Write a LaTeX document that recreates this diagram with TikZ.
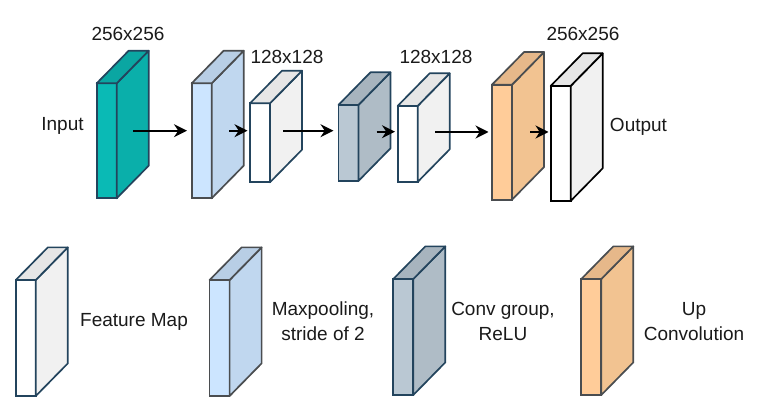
\documentclass[tikz,border=0pt]{standalone}
\usepackage{fontspec}
\setmainfont{Liberation Sans}
\usetikzlibrary{arrows.meta}

\definecolor{linedark}{HTML}{23445D}
\definecolor{linegrey}{HTML}{4A4D50}
\definecolor{tealfront}{HTML}{0ABAB5}
\definecolor{tealside}{HTML}{0AAFAA}
\definecolor{tealtop}{HTML}{0AA6A2}
\definecolor{bluefront}{HTML}{CCE5FF}
\definecolor{blueside}{HTML}{C0D7EF}
\definecolor{bluetop}{HTML}{B8CEE5}
\definecolor{slatefront}{HTML}{BAC8D3}
\definecolor{slateside}{HTML}{AFBCC6}
\definecolor{slatetop}{HTML}{A7B4BE}
\definecolor{whiteside}{HTML}{F1F1F1}
\definecolor{whitetop}{HTML}{E6E6E6}
\definecolor{orangefront}{HTML}{FFCC99}
\definecolor{orangeside}{HTML}{F2C391}
\definecolor{orangetop}{HTML}{E6B88A}
\definecolor{textdark}{HTML}{1A1A1A}

\tikzset{
  face/.style={rectangle, draw, line width=1.7pt, inner sep=0pt, outer sep=0pt, minimum width=20pt},
  faceline/.style={line width=1.7pt, line join=round},
  lbl/.style={inner sep=0pt, align=center, text=textdark, font=\fontsize{19}{25}\selectfont},
  flow/.style={-{Stealth[length=13pt, width=13pt]}, line width=1.8pt, black}
}

% side and top of a block, from the corners of its front node
\newcommand{\blockfaces}[5]{%
  \draw[faceline, draw=#4, fill=#3] (#1.north east) -- ++(32,-32.6) -- ++(0,#5) -- (#1.south east) -- cycle;
  \draw[faceline, draw=#4, fill=#2] (#1.north west) -- ++(32,-32.6) -- ++(20,0) -- (#1.north east) -- cycle;
}

\begin{document}
\begin{tikzpicture}[x=1pt, y=-1pt]
    \useasboundingbox (0,0) rectangle (777,414);

    % network
    \node[face, draw=linedark, fill=tealfront, minimum height=115pt] (b1) at (106.7,140.8) {};
    \blockfaces{b1}{tealtop}{tealside}{linedark}{115}
    \node[face, draw=linegrey, fill=bluefront, minimum height=115pt] (b2) at (201.7,140.8) {};
    \blockfaces{b2}{bluetop}{blueside}{linegrey}{115}
    \node[face, draw=linedark, fill=white, minimum height=79pt] (b3) at (260,142.8) {};
    \blockfaces{b3}{whitetop}{whiteside}{linedark}{79}
    \node[face, draw=linedark, fill=slatefront, minimum height=76pt] (b4) at (348.5,142.9) {};
    \blockfaces{b4}{slatetop}{slateside}{linedark}{76}
    \node[face, draw=linedark, fill=white, minimum height=76pt] (b5) at (407.7,143.9) {};
    \blockfaces{b5}{whitetop}{whiteside}{linedark}{76}
    \node[face, draw=linegrey, fill=orangefront, minimum height=115pt] (b6) at (502,142.2) {};
    \blockfaces{b6}{orangetop}{orangeside}{linegrey}{115}
    \node[face, draw=black, fill=white, minimum height=115pt] (b7) at (560.7,143.4) {};
    \blockfaces{b7}{whitetop}{whiteside}{black}{115}

    % legend
    \node[face, draw=linedark, fill=white, minimum height=116pt] (k1) at (25.8,338) {};
    \blockfaces{k1}{whitetop}{whiteside}{linedark}{116}
    \node[face, draw=linegrey, fill=bluefront, minimum height=116pt] (k2) at (219.6,338) {};
    \blockfaces{k2}{bluetop}{blueside}{linegrey}{116}
    \node[face, draw=linedark, fill=slatefront, minimum height=116pt] (k3) at (403.3,337) {};
    \blockfaces{k3}{slatetop}{slateside}{linedark}{116}
    \node[face, draw=linegrey, fill=orangefront, minimum height=116pt] (k4) at (591.3,337) {};
    \blockfaces{k4}{orangetop}{orangeside}{linegrey}{116}

    \coordinate (s1) at (133.3,130.7);
    \coordinate (e1) at (187,130.7);
    \coordinate (s2) at (229,130.7);
    \coordinate (e2) at (247.5,130.7);
    \coordinate (s3) at (283.3,130.7);
    \coordinate (e3) at (333.5,130.7);
    \coordinate (s4) at (376.7,131.7);
    \coordinate (e4) at (395,131.7);
    \coordinate (s5) at (435,132);
    \coordinate (e5) at (488.5,132);
    \coordinate (s6) at (530,132);
    \coordinate (e6) at (548.5,132);

    \draw[flow] (s1) -- (e1);
    \draw[flow] (s2) -- (e2);
    \draw[flow] (s3) -- (e3);
    \draw[flow] (s4) -- (e4);
    \draw[flow] (s5) -- (e5);
    \draw[flow] (s6) -- (e6);

    \node[lbl] (input) at (62.5,125.5) {Input};
    \node[lbl] (size1) at (128,34) {256x256};
    \node[lbl] (size2) at (287,57) {128x128};
    \node[lbl] (size3) at (436,57) {128x128};
    \node[lbl] (size4) at (583,34) {256x256};
    \node[lbl] (output) at (638.5,126.5) {Output};
    \node[lbl] (featlbl) at (134,321.5) {Feature Map};
    \node[lbl] (poollbl) at (323,321.5) {Maxpooling,\\stride of 2};
    \node[lbl] (convlbl) at (503,321.5) {Conv group,\\ReLU};
    \node[lbl] (uplbl) at (694,321.5) {Up\\Convolution};
\end{tikzpicture}
\end{document}
